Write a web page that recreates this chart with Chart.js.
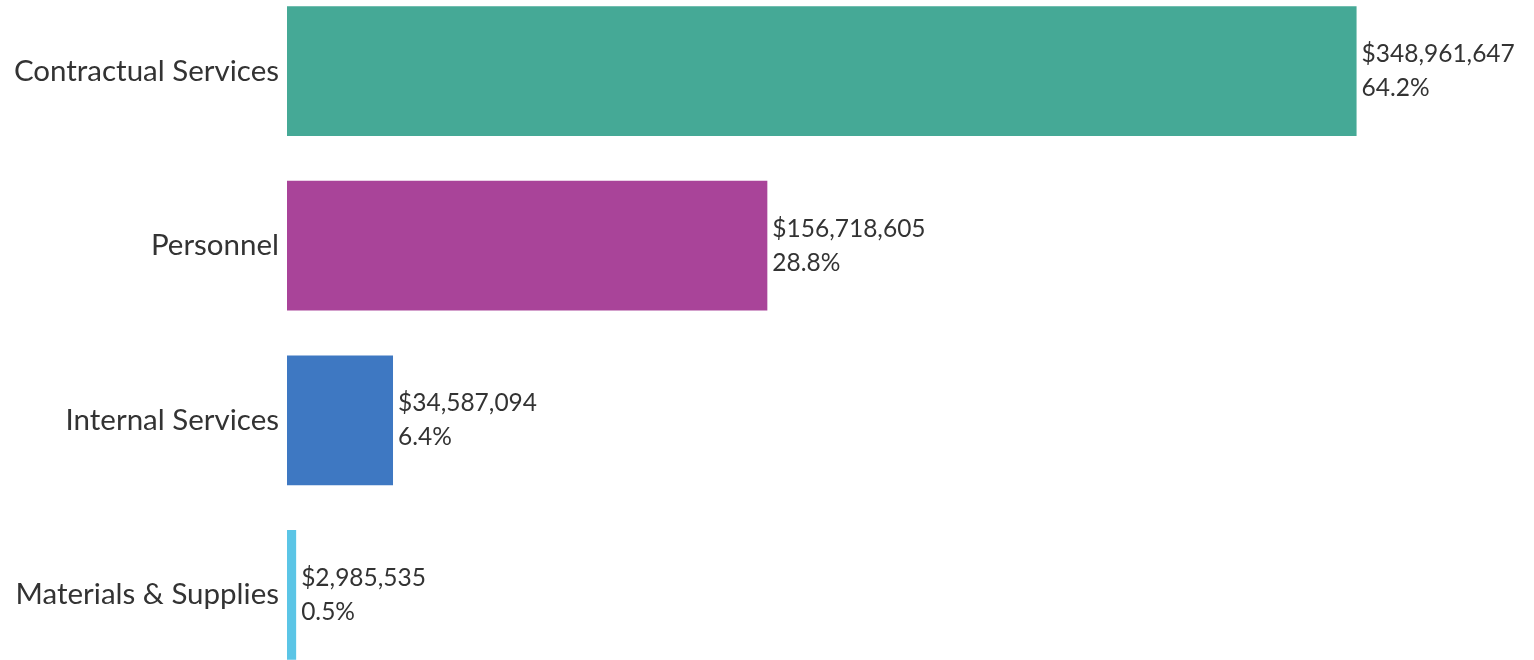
<!DOCTYPE html>
<html>
<head>
<meta charset="utf-8">
<script src="https://cdn.jsdelivr.net/npm/chart.js@4"></script>
<style>
	html, body { margin: 0; padding: 0; background: #fff; overflow: hidden; }
	#wrap { position: absolute; left: 0; top: -34.5px; width: 1534px; height: 734px; }
</style>
</head>
<body>
<div id="wrap"><canvas id="costChart"></canvas></div>
<script>
const categories = ["Contractual Services", "Personnel", "Internal Services", "Materials & Supplies"];
const amounts = [348961647, 156718605, 34587094, 2985535];
const shares = ["64.2%", "28.8%", "6.4%", "0.5%"];
const barColors = ["#45a996", "#a94499", "#3e78c2", "#5bc5e6"];

// two-line labels to the right of each bar
const barLabels = {
	id: "barLabels",
	afterDatasetsDraw(chart) {
		const ctx = chart.ctx;
		const meta = chart.getDatasetMeta(0);
		ctx.save();
		ctx.font = "24.5px Lato";
		ctx.fillStyle = "#333";
		ctx.textAlign = "left";
		ctx.textBaseline = "middle";
		meta.data.forEach(function (bar, i) {
			const x = bar.x + 5;
			ctx.fillText("$" + amounts[i].toLocaleString("en-US"), x, bar.y - 17);
			ctx.fillText(shares[i], x, bar.y + 17);
		});
		ctx.restore();
	},
};

const ctx1 = document.getElementById("costChart");
const myChart1 = new Chart(ctx1, {
	type: "bar",
	data: {
		labels: categories,
		datasets: [
			{
				label: "Amount",
				data: amounts,
				backgroundColor: barColors,
				borderWidth: 0,
				barPercentage: 1,
				categoryPercentage: 0.743,
			},
		],
	},
	options: {
		indexAxis: "y",
		responsive: true,
		maintainAspectRatio: false,
		animation: false,
		layout: {
			padding: { left: 0, right: 21, top: 0, bottom: 0 },
		},
		plugins: {
			legend: { display: false },
			tooltip: { enabled: false },
		},
		scales: {
			x: {
				min: 0,
				max: 400000000,
				display: false,
			},
			y: {
				grid: { display: false },
				border: { display: false },
				afterFit(scale) { scale.width = 287; },
				ticks: {
					color: "#333",
					padding: 0,
					font: { family: "Lato", size: 29.5 },
				},
			},
		},
	},
	plugins: [barLabels],
});
</script>
</body>
</html>
